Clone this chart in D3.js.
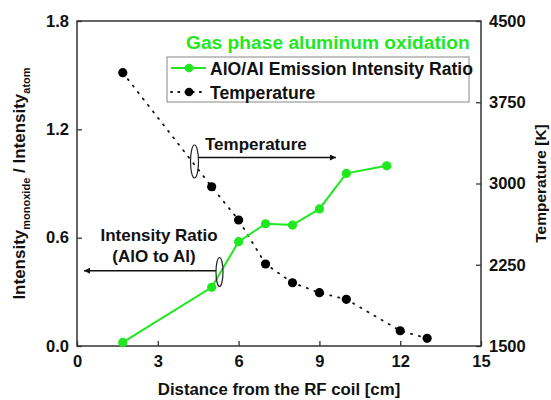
<!DOCTYPE html>
<html>
<head>
<meta charset="utf-8">
<script src="https://cdn.jsdelivr.net/npm/d3@7"></script>
<style>
  html, body { margin: 0; padding: 0; background: #fff; }
  text { font-family: Arial, "Liberation Sans", sans-serif; font-weight: bold; }
</style>
</head>
<body>
<svg id="chart" width="551" height="400"></svg>
<script>
// Distance from the RF coil (cm)
const ratioDistance = [1.7, 5.0, 6.0, 7.0, 8.0, 9.0, 10.0, 11.5];
// AlO/Al emission intensity ratio
const ratioValues = [0.02, 0.325, 0.578, 0.677, 0.670, 0.759, 0.956, 0.998];
const tempDistance = [1.7, 5.0, 6.0, 7.0, 8.0, 9.0, 10.0, 12.0, 13.0];
// Temperature (K)
const tempValues = [4023, 2970, 2663, 2257, 2084, 1992, 1931, 1641, 1571];

const xTicks = [0, 3, 6, 9, 12, 15];
const yLeftTicks = [0.0, 0.6, 1.2, 1.8];
const yRightTicks = [1500, 2250, 3000, 3750, 4500];

const green = "#1ee81e";
const frame = "#333";

const svg = d3.select("#chart");
const m = { left: 77, right: 481, top: 21, bottom: 346 };

const x = d3.scaleLinear().domain([0, 15]).range([m.left, m.right]);
const yL = d3.scaleLinear().domain([0, 1.8]).range([m.bottom, m.top]);
const yR = d3.scaleLinear().domain([1500, 4500]).range([m.bottom, m.top]);

// Axes with inward ticks
const styleAxis = g => {
  g.select(".domain").remove();
  g.selectAll(".tick line").attr("stroke", frame).attr("stroke-width", 1.3);
  g.selectAll(".tick text").attr("fill", "#111").style("font-size", "16.5px")
    .style("font-family", "Arial, 'Liberation Sans', sans-serif").style("font-weight", "bold");
};

svg.append("g").attr("transform", `translate(0,${m.bottom})`)
  .call(d3.axisBottom(x).tickValues(xTicks).tickFormat(d3.format("d"))
    .tickSizeInner(-5).tickSizeOuter(0).tickPadding(9))
  .call(styleAxis);

svg.append("g").attr("transform", `translate(${m.left},0)`)
  .call(d3.axisLeft(yL).tickValues(yLeftTicks).tickFormat(d3.format(".1f"))
    .tickSizeInner(-5).tickSizeOuter(0).tickPadding(8))
  .call(styleAxis);

svg.append("g").attr("transform", `translate(${m.right},0)`)
  .call(d3.axisRight(yR).tickValues(yRightTicks).tickFormat(d3.format("d"))
    .tickSizeInner(-5).tickSizeOuter(0).tickPadding(8))
  .call(styleAxis);

// Plot frame
svg.append("rect")
  .attr("x", m.left).attr("y", m.top)
  .attr("width", m.right - m.left).attr("height", m.bottom - m.top)
  .attr("fill", "none").attr("stroke", frame).attr("stroke-width", 1.5);

// Axis titles
svg.append("text").attr("x", 279).attr("y", 395).attr("text-anchor", "middle")
  .attr("fill", "#111").style("font-size", "16.8px").text("Distance from the RF coil [cm]");

const yl = svg.append("text")
  .attr("transform", `translate(25,${(m.top + m.bottom) / 2}) rotate(-90)`)
  .attr("text-anchor", "middle").attr("fill", "#111").style("font-size", "17px");
yl.append("tspan").text("Intensity");
yl.append("tspan").attr("dy", 5).style("font-size", "11px").text("monoxide");
yl.append("tspan").attr("dy", -5).text(" / Intensity");
yl.append("tspan").attr("dy", 5).style("font-size", "11px").text("atom");

svg.append("text")
  .attr("transform", `translate(546,${(m.top + m.bottom) / 2}) rotate(-90)`)
  .attr("text-anchor", "middle").attr("fill", "#111").style("font-size", "15.5px")
  .text("Temperature [K]");

// Temperature series (dotted)
const tempPts = tempDistance.map((d, i) => [d, tempValues[i]]);
svg.append("path").datum(tempPts)
  .attr("fill", "none").attr("stroke", "#111").attr("stroke-width", 1.8)
  .attr("stroke-dasharray", "1.2,7").attr("stroke-linecap", "round")
  .attr("d", d3.line().x(d => x(d[0])).y(d => yR(d[1])));
svg.append("g").selectAll("circle").data(tempPts).join("circle")
  .attr("cx", d => x(d[0])).attr("cy", d => yR(d[1])).attr("r", 4.6).attr("fill", "#000");

// Intensity ratio series
const ratioPts = ratioDistance.map((d, i) => [d, ratioValues[i]]);
svg.append("path").datum(ratioPts)
  .attr("fill", "none").attr("stroke", green).attr("stroke-width", 2)
  .attr("d", d3.line().x(d => x(d[0])).y(d => yL(d[1])));
svg.append("g").selectAll("circle").data(ratioPts).join("circle")
  .attr("cx", d => x(d[0])).attr("cy", d => yL(d[1])).attr("r", 4.6).attr("fill", green);

// Title
svg.append("text").attr("x", 186).attr("y", 49).attr("fill", green)
  .style("font-size", "19.2px").text("Gas phase aluminum oxidation");

// Legend
const lg = svg.append("g");
lg.append("rect").attr("x", 167).attr("y", 57).attr("width", 302).attr("height", 45)
  .attr("fill", "#fff").attr("stroke", "#888").attr("stroke-width", 1);
lg.append("line").attr("x1", 171).attr("x2", 206).attr("y1", 68).attr("y2", 68)
  .attr("stroke", green).attr("stroke-width", 2);
lg.append("circle").attr("cx", 189).attr("cy", 68).attr("r", 4.3).attr("fill", green);
lg.append("line").attr("x1", 171).attr("x2", 206).attr("y1", 92).attr("y2", 92)
  .attr("stroke", "#111").attr("stroke-width", 1.8).attr("stroke-dasharray", "1.2,6")
  .attr("stroke-linecap", "round");
lg.append("circle").attr("cx", 189).attr("cy", 92).attr("r", 4.3).attr("fill", "#000");
lg.append("text").attr("x", 210).attr("y", 74.5).attr("fill", "#111").style("font-size", "17.6px")
  .text("AlO/Al Emission Intensity Ratio");
lg.append("text").attr("x", 210).attr("y", 98.5).attr("fill", "#111").style("font-size", "17.6px")
  .text("Temperature");

// Annotation arrows and ellipses
const defs = svg.append("defs");
defs.append("marker").attr("id", "arrow").attr("viewBox", "0 0 10 10")
  .attr("refX", 10).attr("refY", 5).attr("markerWidth", 10).attr("markerHeight", 6)
  .attr("markerUnits", "userSpaceOnUse").attr("orient", "auto")
  .append("path").attr("d", "M0,0 L10,5 L0,10 Z").attr("fill", "#111");

svg.append("ellipse").attr("cx", 194.5).attr("cy", 161.5).attr("rx", 4).attr("ry", 16.5)
  .attr("fill", "none").attr("stroke", "#222").attr("stroke-width", 1.2);
svg.append("line").attr("x1", 198.5).attr("y1", 157.5).attr("x2", 336).attr("y2", 157.5)
  .attr("stroke", "#111").attr("stroke-width", 1.5).attr("marker-end", "url(#arrow)");
svg.append("text").attr("x", 205).attr("y", 150).attr("fill", "#111")
  .style("font-size", "17px").text("Temperature");

svg.append("ellipse").attr("cx", 219.5).attr("cy", 272).attr("rx", 3.5).attr("ry", 14.5)
  .attr("fill", "none").attr("stroke", "#222").attr("stroke-width", 1.2);
svg.append("line").attr("x1", 216).attr("y1", 270.7).attr("x2", 84).attr("y2", 270.7)
  .attr("stroke", "#111").attr("stroke-width", 1.5).attr("marker-end", "url(#arrow)");
svg.append("text").attr("x", 159).attr("y", 241).attr("text-anchor", "middle").attr("fill", "#111")
  .style("font-size", "17px").text("Intensity Ratio");
svg.append("text").attr("x", 154).attr("y", 262).attr("text-anchor", "middle").attr("fill", "#111")
  .style("font-size", "17px").text("(AlO to Al)");
</script>
</body>
</html>
